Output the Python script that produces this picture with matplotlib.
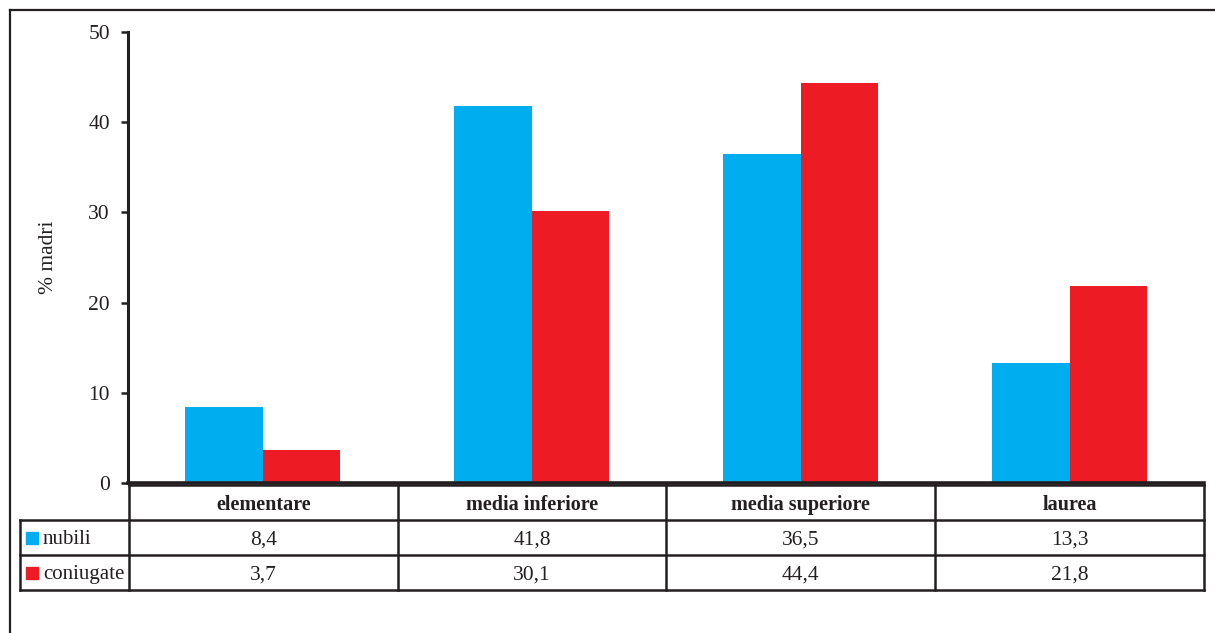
import numpy as np
import matplotlib
matplotlib.use("Agg")
import matplotlib.pyplot as plt
from matplotlib.lines import Line2D

plt.rcParams['font.family'] = ['Liberation Serif', 'DejaVu Serif']

categories = ["elementare", "media inferiore", "media superiore", "laurea"]
series_names = ["nubili", "coniugate"]
nubili = [8.4, 41.8, 36.5, 13.3]
coniugate = [3.7, 30.1, 44.4, 21.8]
y_ticks = [0, 10, 20, 30, 40, 50]

BLUE = "#00AEEF"
RED = "#ED1C24"
INK = "#231F20"

W, H = 1215, 633


def fmt(v):
    return "{:.1f}".format(v).replace(".", ",")


fig = plt.figure(figsize=(W / 100, H / 100), dpi=100)

# outer frame (left and top only)
fig.add_artist(Line2D([10 / W, 1.0], [1 - 10 / H, 1 - 10 / H], transform=fig.transFigure,
                      color=INK, lw=1.6))
fig.add_artist(Line2D([10 / W, 10 / W], [0.0, 1 - 10 / H], transform=fig.transFigure,
                      color=INK, lw=1.6))

# bar chart
ax = fig.add_axes([128 / W, (H - 483) / H, (1204 - 128) / W, (483 - 32) / H])
x = np.arange(len(categories))
width = 0.287
ax.bar(x - width / 2, nubili, width, color=BLUE)
ax.bar(x + width / 2, coniugate, width, color=RED)
ax.set_xlim(-0.5, len(categories) - 0.5)
ax.set_ylim(0, 50)
ax.set_yticks(y_ticks)
ax.set_xticks([])
ax.spines['top'].set_visible(False)
ax.spines['right'].set_visible(False)
ax.spines['left'].set_linewidth(2.2)
ax.spines['bottom'].set_linewidth(2.6)
ax.spines['left'].set_color(INK)
ax.spines['bottom'].set_color(INK)
ax.tick_params(axis='y', direction='out', length=5, width=1.8, pad=8,
               labelsize=15.5, colors=INK)
ax.set_ylabel("% madri", fontsize=15.5, color=INK, labelpad=22)

# data table below the axis
tax = fig.add_axes([20 / W, (H - 590) / H, (1204 - 20) / W, (590 - 485) / H])
x0 = -0.5 - 109 / 269
xr = len(categories) - 0.5
tax.set_xlim(x0, xr)
tax.set_ylim(0, 3)
tax.axis('off')
lw = 1.8
tax.plot([-0.5, xr], [3, 3], color=INK, lw=lw, clip_on=False)
for yy in [0, 1, 2]:
    tax.plot([x0, xr], [yy, yy], color=INK, lw=lw, clip_on=False)
for i in range(len(categories) + 1):
    tax.plot([i - 0.5, i - 0.5], [0, 3], color=INK, lw=lw, clip_on=False)
tax.plot([x0, x0], [0, 2], color=INK, lw=lw, clip_on=False)

for i, cat in enumerate(categories):
    tax.text(i, 2.5, cat, ha='center', va='center_baseline', fontsize=14.5,
             fontweight='bold', color=INK)
    tax.text(i, 1.5, fmt(nubili[i]), ha='center', va='center_baseline',
             fontsize=15.5, color=INK)
    tax.text(i, 0.5, fmt(coniugate[i]), ha='center', va='center_baseline',
             fontsize=15.5, color=INK)

for row, (name, col) in enumerate(zip(series_names, [BLUE, RED])):
    yy = 1.5 - row
    tax.plot([x0 + 12 / 269], [yy], marker='s', markersize=8, color=col,
             linestyle='none', clip_on=False)
    tax.text(x0 + 23 / 269, yy, name, ha='left', va='center_baseline', fontsize=15,
             color=INK)

fig.savefig("out.png", dpi=100)
